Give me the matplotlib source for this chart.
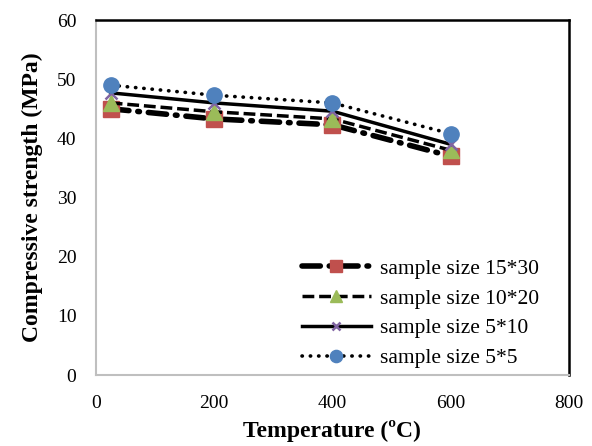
import numpy as np
import matplotlib.pyplot as plt

plt.rcParams['font.family'] = ['Liberation Serif', 'DejaVu Serif']

# data
temps = [25, 200, 400, 600]
s15x30 = [45.0, 43.3, 42.3, 37.0]
s10x20 = [46.0, 44.5, 43.3, 38.0]
s5x10 = [47.7, 46.0, 44.6, 39.0]
s5x5 = [49.0, 47.3, 46.0, 40.8]
labels = ['sample size 15*30', 'sample size 10*20', 'sample size 5*10', 'sample size 5*5']

fig = plt.figure(figsize=(5.92, 4.46), dpi=100)
ax = fig.add_axes([0.162, 0.159, 0.799, 0.796])

ax.plot(temps, s15x30, color='black', lw=4, dashes=(3.3, 1.6, 0.3, 1.6), dash_capstyle='round',
        marker='s', ms=11, mfc='#C0504D', mec='#C0504D', label=labels[0])
ax.plot(temps, s10x20, color='black', lw=2.5, dashes=(3.4, 1.4),
        marker='^', ms=11, mfc='#9BBB59', mec='#9BBB59', label=labels[1])
ax.plot(temps, s5x10, color='black', lw=2.5, linestyle='-',
        marker='x', ms=8, mew=1.8, mec='#8064A2', label=labels[2])
ax.plot(temps, s5x5, color='black', lw=2.6, dashes=(0.1, 2.2), dash_capstyle='round',
        marker='o', ms=11, mfc='#4F81BD', mec='#4F81BD', label=labels[3])

ax.set_xlim(0, 800)
ax.set_ylim(0, 60)
ax.set_xticks([0, 200, 400, 600, 800])
ax.set_yticks(np.arange(0, 61, 10))
ax.tick_params(length=0, labelsize=14)
ax.tick_params(axis='y', pad=14)
ax.tick_params(axis='x', pad=14)

for s in ['left', 'bottom']:
    ax.spines[s].set_color('#BFBFBF')
    ax.spines[s].set_linewidth(1.5)
for s in ['top', 'right']:
    ax.spines[s].set_color('black')
    ax.spines[s].set_linewidth(1.8)

ax.set_xlabel('Temperature (ºC)', fontsize=17, fontweight='bold', labelpad=6)
ax.set_ylabel('Compressive strength (MPa)', fontsize=17, fontweight='bold', labelpad=10)

ax.legend(loc='lower right', bbox_to_anchor=(0.977, -0.035), frameon=False, fontsize=15.5,
          handlelength=3.2, handletextpad=0.4, labelspacing=0.45, markerscale=0.8)

fig.savefig('out.png', dpi=100)
